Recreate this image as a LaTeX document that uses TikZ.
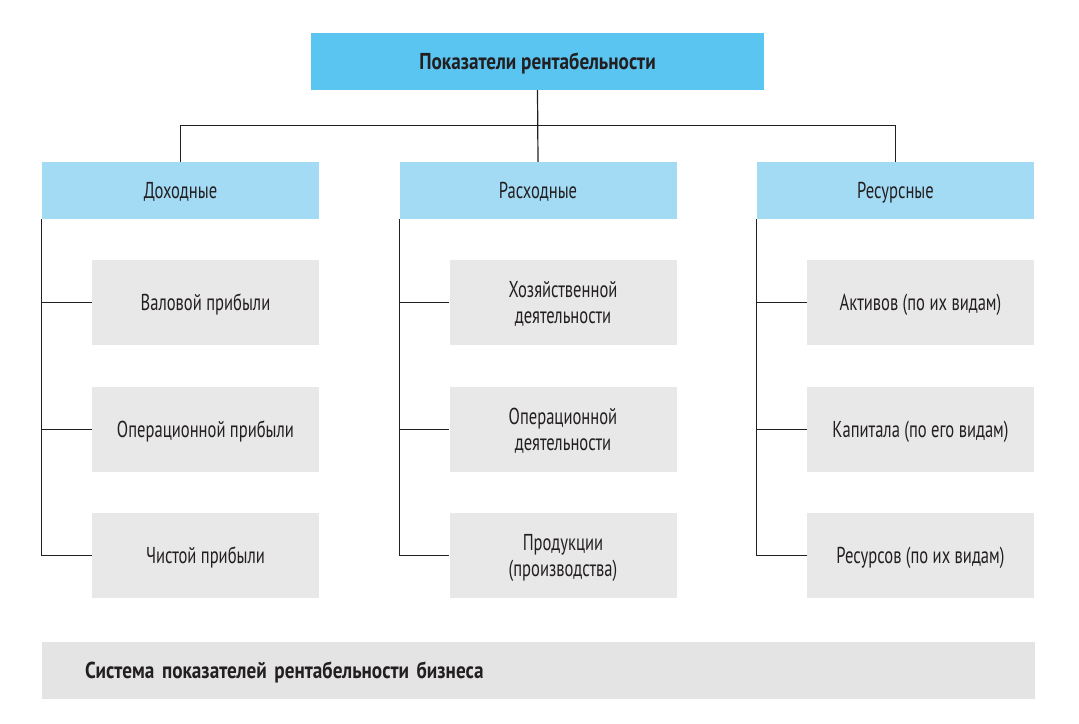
\documentclass[tikz,border=0pt]{standalone}
\usepackage{fontspec}
\setmainfont[FakeStretch=0.72,BoldFeatures={FakeStretch=0.835}]{PT Sans}
\usepackage{tikz}
\usetikzlibrary{positioning}
\definecolor{topblue}{HTML}{5BC5F2}
\definecolor{midblue}{HTML}{A3DBF5}
\definecolor{lightgray}{HTML}{E8E8E8}
\definecolor{footgray}{HTML}{E4E4E4}
\definecolor{linegray}{HTML}{231F20}

\begin{document}
\begin{tikzpicture}[x=1pt,y=-1pt,
   every node/.style={font=\fontsize{23}{26}\selectfont,text=linegray,inner sep=0pt,text depth=0pt},
   head/.style={fill=topblue,minimum width=453pt,minimum height=57pt,font=\fontsize{23}{26}\selectfont\bfseries},
   group/.style={fill=midblue,minimum width=277pt,minimum height=57pt},
   item/.style={fill=lightgray,minimum width=227pt,minimum height=85pt,align=center},
   link/.style={draw=linegray,line width=1.2pt}]
   \useasboundingbox (0,0) rectangle (1079,723);

   \node[head] (top) at (537.5,61.5) {Показатели рентабельности};

   \node[group] (dohod)  at (180.5,190.5) {Доходные};
   \node[group] (rashod) at (538,190.5)   {Расходные};
   \node[group] (resurs) at (895.5,190.5) {Ресурсные};

   \node[item] (d1) at (205.5,302.5) {Валовой прибыли};
   \node[item] (d2) at (205.5,429.5) {Операционной прибыли};
   \node[item] (d3) at (205.5,555.5) {Чистой прибыли};

   \node[item] (r1) at (563,302.5) {Хозяйственной\\деятельности};
   \node[item] (r2) at (563,429.5) {Операционной\\деятельности};
   \node[item] (r3) at (563,555.5) {Продукции\\(производства)};

   \node[item] (s1) at (920.5,302.5) {Активов (по их видам)};
   \node[item] (s2) at (920.5,429.5) {Капитала (по его видам)};
   \node[item] (s3) at (920.5,555.5) {Ресурсов (по их видам)};

   \node[fill=footgray,minimum width=993pt,minimum height=57pt,text width=907pt,
         inner xsep=43pt,align=left,font=\fontsize{23}{26}\selectfont\bfseries]
        (itog) at (538.5,670.5) {Система показателей рентабельности бизнеса};

   \draw[link] (top.south) -- (rashod.north);
   \draw[link] (dohod.north) -- ++(0,-36) -| (resurs.north);
   \foreach \g/\c in {dohod/d,rashod/r,resurs/s}
      \foreach \i in {1,2,3}
         \draw[link] (\g.south west) |- (\c\i.west);
\end{tikzpicture}
\end{document}
